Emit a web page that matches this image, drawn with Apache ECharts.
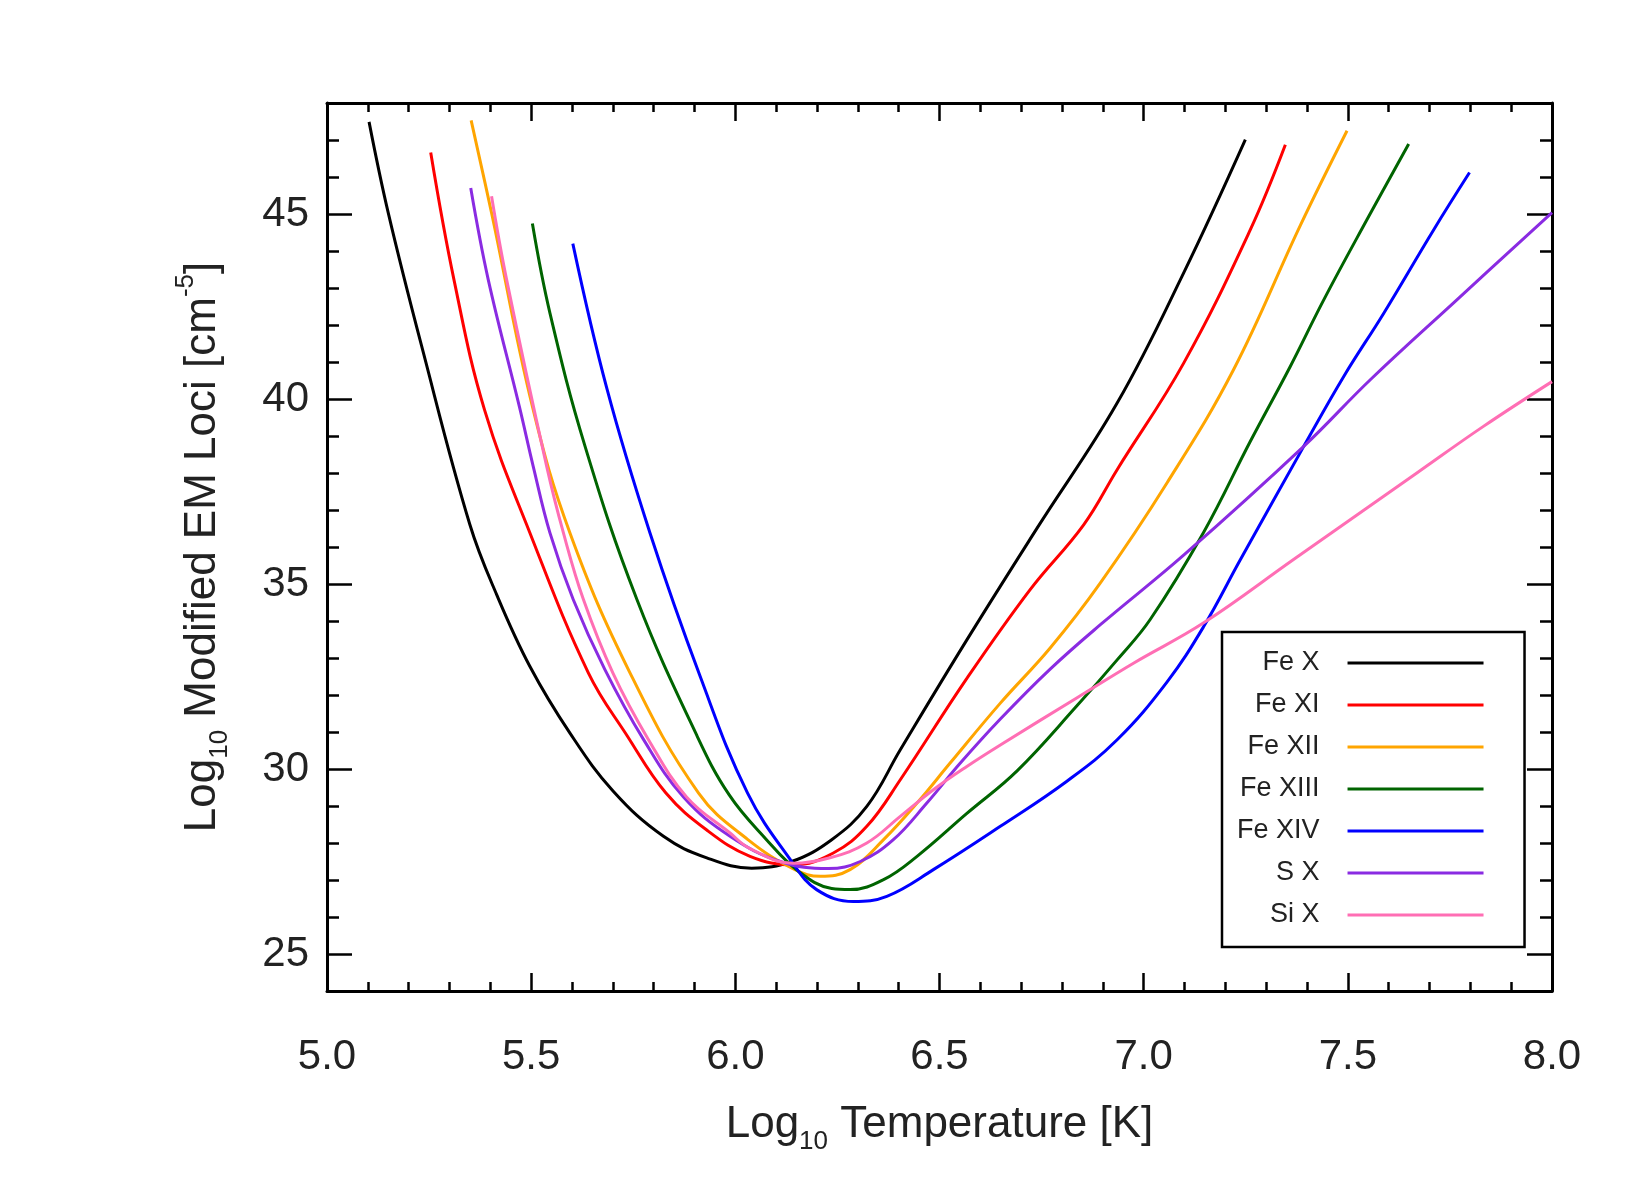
<!DOCTYPE html>
<html><head><meta charset="utf-8">
<script src="https://cdn.jsdelivr.net/npm/echarts@6/dist/echarts.min.js"></script>
<style>html,body{margin:0;padding:0;background:#fff}#c{width:1650px;height:1200px}</style>
</head><body><div id="c"></div>
<script>
// ---- data (log10 T, log10 EM loci) ----
const seriesNames = ['Fe X', 'Fe XI', 'Fe XII', 'Fe XIII', 'Fe XIV', 'S X', 'Si X'];
const seriesColors = ['#000000', '#ff0000', '#ffa500', '#006400', '#0000ff', '#8a2be2', '#ff6eb4'];

const feX = [[5.103,47.49],[5.150,45.03],[5.232,41.42],[5.350,36.6],[5.416,34.7],[5.497,32.77],[5.595,30.97],[5.701,29.4],[5.824,28.18],[5.93,27.6],[6.04,27.32],[6.138,27.5],[6.236,28.09],[6.322,28.99],[6.404,30.52],[6.567,33.49],[6.739,36.51],[6.935,39.89],[7.098,43.41],[7.249,47.01]];
const feXI = [[5.254,46.66],[5.311,43.22],[5.386,39.7],[5.497,36.38],[5.640,32.6],[5.735,30.9],[5.83,29.35],[5.93,28.35],[6.036,27.64],[6.142,27.41],[6.240,27.73],[6.322,28.45],[6.404,29.71],[6.567,32.45],[6.722,34.85],[6.853,36.6],[6.935,38.09],[7.098,40.97],[7.261,44.57],[7.347,46.87]];
const feXII = [[5.353,47.53],[5.403,45.03],[5.503,39.8],[5.595,36.38],[5.742,32.6],[5.91,29.35],[6.030,28.1],[6.146,27.28],[6.208,27.1],[6.281,27.28],[6.363,28.09],[6.445,29.08],[6.526,30.16],[6.649,31.78],[6.771,33.27],[6.894,35.03],[7.057,37.73],[7.220,40.79],[7.384,44.7],[7.498,47.25]];
const feXIII = [[5.503,44.74],[5.546,42.32],[5.632,38.72],[5.759,34.58],[5.906,30.9],[5.985,29.3],[6.073,28.13],[6.155,27.23],[6.236,26.77],[6.281,26.74],[6.363,27.01],[6.445,27.64],[6.567,28.8],[6.69,29.95],[6.836,31.7],[6.935,32.95],[7.016,34.04],[7.147,36.4],[7.261,38.85],[7.359,40.88],[7.441,42.68],[7.547,44.85],[7.649,46.89]];
const feXIV = [[5.602,44.2],[5.685,40.3],[5.791,36.38],[5.914,32.5],[6.03,29.35],[6.138,27.5],[6.199,26.74],[6.289,26.42],[6.371,26.56],[6.485,27.28],[6.649,28.45],[6.812,29.67],[6.935,30.79],[7.057,32.35],[7.147,33.85],[7.237,35.66],[7.392,38.72],[7.490,40.61],[7.588,42.32],[7.710,44.57],[7.798,46.12]];
const sX = [[5.352,45.7],[5.395,43.22],[5.471,39.8],[5.505,38.18],[5.546,36.38],[5.603,34.58],[5.680,32.7],[5.775,30.8],[5.873,29.24],[5.987,28.18],[6.11,27.5],[6.228,27.31],[6.306,27.5],[6.387,28.09],[6.469,29.08],[6.551,30.16],[6.649,31.35],[6.771,32.7],[6.894,33.9],[7.10,35.8],[7.392,38.72],[7.555,40.52],[7.767,42.68],[8.0,45.04]];
const siX = [[5.403,45.48],[5.440,43.22],[5.538,38.18],[5.579,36.38],[5.628,34.58],[5.700,32.6],[5.787,30.8],[5.881,29.24],[5.987,28.27],[6.036,27.85],[6.142,27.45],[6.232,27.6],[6.322,28.0],[6.404,28.72],[6.485,29.44],[6.567,30.07],[6.649,30.65],[6.836,31.92],[6.975,32.86],[7.147,33.95],[7.367,35.66],[7.669,38.0],[7.832,39.26],[8.0,40.47]];

const seriesData = [feX, feXI, feXII, feXIII, feXIV, sX, siX];
const yMajorValues = [25, 30, 35, 40, 45];

// ---- styling ----
const FONT = '"Liberation Sans", Arial, Helvetica, sans-serif';
const TXT = '#222222';
const axisLine = {show: true, onZero: false, lineStyle: {color: '#000', width: 3}};
const tickStyle = {color: '#000', width: 2.5};

const chart = echarts.init(document.getElementById('c'), null, {renderer: 'canvas'});

function xAxisDef(pos, withLabels) {
  const a = {
    type: 'value', position: pos, min: 5, max: 8, interval: 0.5,
    axisLine: axisLine,
    axisTick: {show: true, inside: true, length: 18, lineStyle: tickStyle},
    minorTick: {show: true, splitNumber: 5, length: 9, lineStyle: tickStyle},
    splitLine: {show: false}, minorSplitLine: {show: false},
    axisLabel: {show: withLabels, margin: 45, fontSize: 42, color: TXT, fontFamily: FONT,
      formatter: v => v.toFixed(1)}
  };
  if (withLabels) {
    a.name = '{m|Log}{s|10}{m| Temperature [K]}';
    a.nameLocation = 'middle';
    a.nameGap = 104;
    a.nameTextStyle = {color: TXT, fontFamily: FONT, fontSize: 44,
      rich: {
        m: {fontSize: 44, fontFamily: FONT, color: TXT},
        s: {fontSize: 26, fontFamily: FONT, color: TXT, padding: [34, 0, 0, 0]}
      }};
  }
  return a;
}
function yMajorDef(pos, withLabels) {
  const a = {
    type: 'value', position: pos, min: 24, max: 48,
    axisLine: axisLine,
    axisTick: {show: true, inside: true, length: 25, lineStyle: tickStyle, customValues: yMajorValues},
    splitLine: {show: false},
    axisLabel: {show: withLabels, customValues: yMajorValues, margin: 18, fontSize: 42, color: TXT, fontFamily: FONT}
  };
  if (withLabels) {
    a.name = '{m|Log}{s|10}{m| Modified EM Loci [cm}{p|-5}{m|]}';
    a.nameLocation = 'middle';
    a.nameGap = 94;
    a.nameTextStyle = {color: TXT, fontFamily: FONT, fontSize: 44,
      rich: {
        m: {fontSize: 44, fontFamily: FONT, color: TXT},
        s: {fontSize: 26, fontFamily: FONT, color: TXT, padding: [34, 0, 0, 0]},
        p: {fontSize: 26, fontFamily: FONT, color: TXT, padding: [0, 0, 34, 0]}
      }};
  }
  return a;
}
function yMinorDef(pos) {
  return {
    type: 'value', position: pos, min: 24, max: 48, interval: 1,
    axisLine: {show: false, onZero: false},
    axisTick: {show: true, inside: true, length: 12, lineStyle: tickStyle},
    splitLine: {show: false},
    axisLabel: {show: false}
  };
}

const option = {
  animation: false,
  backgroundColor: '#ffffff',
  grid: {left: 327, right: 98, top: 103, bottom: 209, outerBoundsMode: 'none', containLabel: false},
  xAxis: [xAxisDef('bottom', true), xAxisDef('top', false)],
  yAxis: [yMajorDef('left', true), yMinorDef('left'), yMajorDef('right', false), yMinorDef('right')],
  legend: {
    orient: 'vertical', left: 1222, top: 632, align: 'right',
    data: seriesNames,
    icon: 'rect',
    itemWidth: 136, itemHeight: 3, itemGap: 12,
    padding: [16, 41, 17, 15],
    borderColor: '#000', borderWidth: 2.5, backgroundColor: '#ffffff',
    selectedMode: false,
    textStyle: {fontSize: 27, fontFamily: FONT, color: TXT, lineHeight: 30, padding: [0, 23, 0, 0]}
  },
  series: seriesNames.map((n, i) => ({
    name: n, type: 'line', data: seriesData[i],
    xAxisIndex: 0, yAxisIndex: 0,
    symbol: 'none', showSymbol: false, smooth: 0.4,
    lineStyle: {color: seriesColors[i], width: 3},
    itemStyle: {color: seriesColors[i]},
    emphasis: {disabled: true},
    z: 2 + i
  }))
};
chart.setOption(option);
</script>
</body></html>
